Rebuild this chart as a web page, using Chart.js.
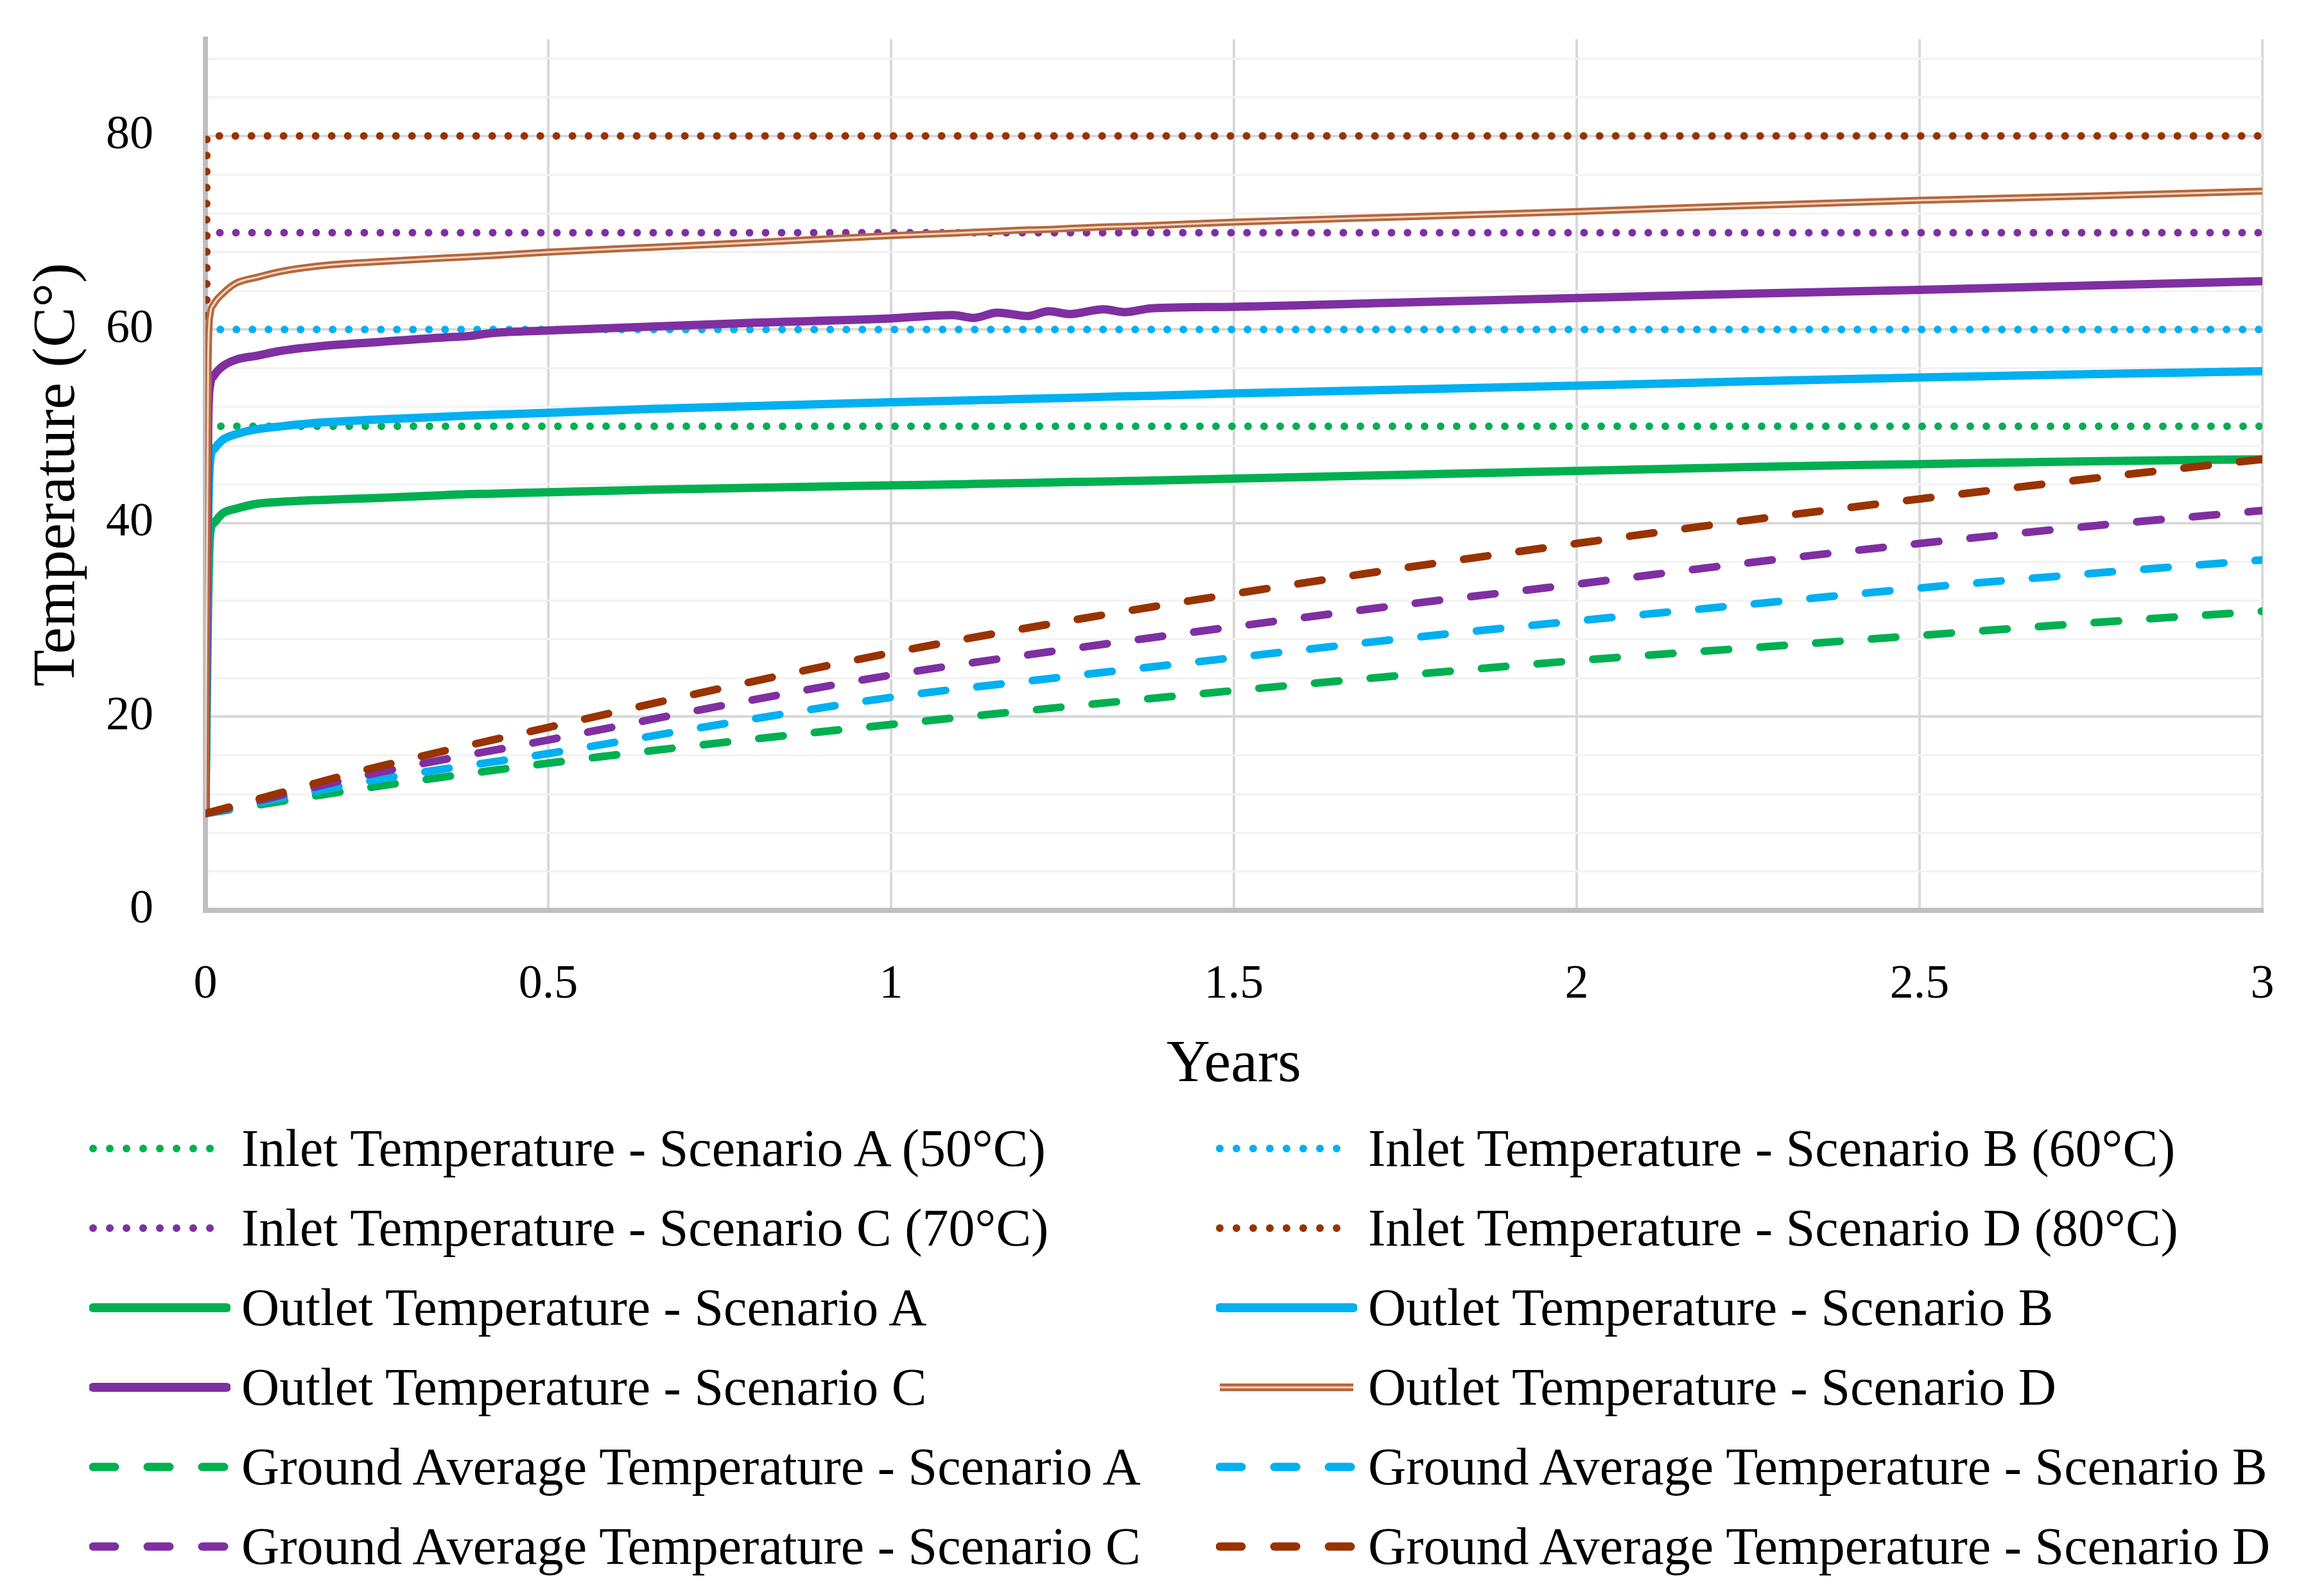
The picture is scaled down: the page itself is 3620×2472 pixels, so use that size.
<!DOCTYPE html>
<html>
<head>
<meta charset="utf-8">
<script src="https://cdn.jsdelivr.net/npm/chart.js@4.4.1/dist/chart.umd.min.js"></script>
<style>
  html, body { margin: 0; padding: 0; background: #fff; }
  #wrap { position: relative; width: 3620px; height: 2472px; }
  #chart { position: absolute; left: 0; top: 0; }
  #legend { position: absolute; left: 0; top: 0; width: 3620px; height: 2472px; font-family: "Liberation Serif", serif; font-size: 82px; color: #000; }
  .item { position: absolute; display: flex; align-items: center; height: 100px; white-space: nowrap; line-height: 1; }
  .item span { margin-left: 17px; }
</style>
</head>
<body>
<div id="wrap">
  <canvas id="chart" width="3620" height="2472"></canvas>
  <div id="legend"></div>
</div>
<script>
// axis ticks
const xTickValues = [0, 0.5, 1, 1.5, 2, 2.5, 3];
const yGridValues = [0, 4, 8, 12, 16, 20, 24, 28, 32, 36, 40, 44, 48, 52, 56, 60, 64, 68, 72, 76, 80, 84, 88];
const yLabelValues = [0, 20, 40, 60, 80];

// inlet (constant set points)
const inletYears = [0, 0.002, 3];
const inletA = [10, 50, 50];
const inletB = [10, 60, 60];
const inletC = [10, 70, 70];
const inletD = [10, 80, 80];

// outlet temperatures
const outletYears = [0, 0.004, 0.007, 0.012, 0.025, 0.045, 0.075, 0.11, 0.17, 0.25, 0.35, 0.38, 0.42, 0.5, 0.65, 0.8, 1.0,
  1.09, 1.12, 1.155, 1.2, 1.23, 1.26, 1.31, 1.34, 1.38, 1.5, 1.75, 2.0, 2.25, 2.5, 2.75, 3.0];
const outletA = [10, 32, 39.0, 40.0, 41.0, 41.5, 42.0, 42.2, 42.4, 42.6, 42.9, 43.0, 43.05, 43.2, 43.45, 43.65, 43.9,
  44.0, 44.05, 44.1, 44.15, 44.2, 44.25, 44.3, 44.35, 44.4, 44.6, 45.0, 45.4, 45.8, 46.1, 46.4, 46.6];
const outletB = [10, 40, 46.5, 47.6, 48.6, 49.2, 49.7, 50.0, 50.4, 50.7, 51.0, 51.1, 51.2, 51.4, 51.8, 52.1, 52.5,
  52.65, 52.7, 52.75, 52.85, 52.9, 52.95, 53.05, 53.1, 53.15, 53.4, 53.8, 54.2, 54.65, 55.05, 55.4, 55.7];
const outletC = [10, 50, 54.3, 55.2, 56.2, 56.9, 57.3, 57.8, 58.3, 58.7, 59.2, 59.3, 59.65, 59.9, 60.3, 60.7, 61.15,
  61.5, 61.2, 61.75, 61.4, 61.9, 61.6, 62.1, 61.8, 62.2, 62.35, 62.8, 63.25, 63.7, 64.1, 64.55, 65.0];
const outletD = [10, 57, 61.6, 62.6, 63.7, 64.8, 65.4, 66.0, 66.6, 67.0, 67.4, 67.5, 67.65, 68.0, 68.5, 69.0, 69.7,
  69.95, 70.05, 70.15, 70.3, 70.35, 70.45, 70.6, 70.65, 70.75, 71.1, 71.65, 72.2, 72.8, 73.35, 73.8, 74.3];

// ground average temperatures
const groundYears = [0, 0.25, 0.5, 0.75, 1, 1.25, 1.5, 1.75, 2, 2.25, 2.5, 2.75, 3];
const groundA = [10, 12.8, 15.2, 17.3, 19.2, 21.0, 22.7, 24.3, 25.8, 27.1, 28.4, 29.7, 30.9];
const groundB = [10, 13.5, 16.2, 19.2, 22.0, 24.1, 26.1, 28.1, 29.9, 31.6, 33.3, 34.8, 36.2];
const groundC = [10, 14.2, 17.6, 21.1, 24.3, 26.9, 29.3, 31.6, 33.7, 35.9, 37.9, 39.7, 41.3];
const groundD = [10, 14.8, 18.9, 22.9, 26.6, 29.8, 32.7, 35.4, 37.9, 40.3, 42.5, 44.6, 46.6];

const GREEN = '#00B050', BLUE = '#00B0F0', PURPLE = '#7F2FA1', BROWN = '#993300';
const COPPER = '#B5673D', COPPER_LIGHT = '#F3D6C4';
const FONT = '"Liberation Serif", serif';

const pts = (xs, ys) => xs.map((x, i) => ({ x: x, y: ys[i] }));

function dotted(label, color, xs, ys) {
  return { label, kind: 'dotted', data: pts(xs, ys), borderColor: color, borderWidth: 12,
    borderDash: [0, 25], borderCapStyle: 'round', tension: 0 };
}
function solid(label, color, xs, ys) {
  return { label, kind: 'solid', data: pts(xs, ys), borderColor: color, borderWidth: 13,
    borderJoinStyle: 'round', cubicInterpolationMode: 'monotone' };
}
function dashed(label, color, xs, ys) {
  return { label, kind: 'dashed', data: pts(xs, ys), borderColor: color, borderWidth: 12,
    borderDash: [38, 49], borderCapStyle: 'round', cubicInterpolationMode: 'monotone' };
}

const outletDSet = solid('Outlet Temperature - Scenario D', COPPER, outletYears, outletD);
outletDSet.borderWidth = 11;
outletDSet.kind = 'double';
const outletDInner = solid('', COPPER_LIGHT, outletYears, outletD);
outletDInner.borderWidth = 3;
outletDInner.noLegend = true;

// drawing order: first in list is bottom
const datasets = [
  dotted('Inlet Temperature - Scenario A (50°C)', GREEN, inletYears, inletA),
  dotted('Inlet Temperature - Scenario B (60°C)', BLUE, inletYears, inletB),
  dotted('Inlet Temperature - Scenario C (70°C)', PURPLE, inletYears, inletC),
  dotted('Inlet Temperature - Scenario D (80°C)', BROWN, inletYears, inletD),
  solid('Outlet Temperature - Scenario A', GREEN, outletYears, outletA),
  solid('Outlet Temperature - Scenario B', BLUE, outletYears, outletB),
  solid('Outlet Temperature - Scenario C', PURPLE, outletYears, outletC),
  outletDSet,
  outletDInner,
  dashed('Ground Average Temperature - Scenario A', GREEN, groundYears, groundA),
  dashed('Ground Average Temperature - Scenario B', BLUE, groundYears, groundB),
  dashed('Ground Average Temperature - Scenario C', PURPLE, groundYears, groundC),
  dashed('Ground Average Temperature - Scenario D', BROWN, groundYears, groundD)
];
datasets.forEach((d, i) => { d.order = -i; d.pointRadius = 0; d.fill = false; });

new Chart(document.getElementById('chart'), {
  type: 'line',
  data: { datasets },
  options: {
    responsive: false,
    devicePixelRatio: 1,
    animation: false,
    layout: { padding: { left: 0, right: 96, top: 61, bottom: 754 } },
    plugins: { legend: { display: false }, tooltip: { enabled: false } },
    scales: {
      x: {
        type: 'linear', min: 0, max: 3,
        afterBuildTicks: s => { s.ticks = xTickValues.map(v => ({ value: v })); },
        afterFit: s => { s.height = 300; },
        ticks: { autoSkip: false, maxRotation: 0, padding: 72, color: '#000',
          font: { family: FONT, size: 74 }, callback: v => String(v) },
        grid: { drawTicks: false, color: '#D9D9D9', lineWidth: 4 },
        border: { color: '#BFBFBF', width: 8 },
        title: { display: true, text: 'Years', color: '#000', font: { family: FONT, size: 94 },
          padding: { top: 0, bottom: 2 } }
      },
      y: {
        min: 0, max: 90,
        afterBuildTicks: s => { s.ticks = yGridValues.map(v => ({ value: v })); },
        afterFit: s => { s.width = 320; s.paddingTop = 0; s.paddingBottom = 0; },
        ticks: { autoSkip: false, padding: 81, color: '#000', font: { family: FONT, size: 74 },
          callback: v => yLabelValues.includes(v) ? String(v) : '' },
        grid: {
          drawTicks: false,
          color: c => (c.tick && yLabelValues.includes(c.tick.value)) ? '#D9D9D9' : '#F2F2F2',
          lineWidth: c => (c.tick && yLabelValues.includes(c.tick.value)) ? 4 : 3
        },
        border: { color: '#BFBFBF', width: 8 },
        title: { display: true, text: 'Temperature (C°)', color: '#000', font: { family: FONT, size: 94 },
          padding: { top: 34, bottom: 0 } }
      }
    }
  }
});

// legend in two columns, built from the dataset styles
function sample(d) {
  const ns = 'http://www.w3.org/2000/svg';
  const svg = document.createElementNS(ns, 'svg');
  svg.setAttribute('width', '220');
  svg.setAttribute('height', '40');
  const line = (w, color, dash, cap) => {
    const l = document.createElementNS(ns, 'line');
    l.setAttribute('x1', '6'); l.setAttribute('x2', '214');
    l.setAttribute('y1', '20'); l.setAttribute('y2', '20');
    l.setAttribute('stroke', color);
    l.setAttribute('stroke-width', w);
    l.setAttribute('stroke-linecap', cap);
    if (dash) l.setAttribute('stroke-dasharray', dash);
    svg.appendChild(l);
  };
  if (d.kind === 'dotted') line(12, d.borderColor, '0 26', 'round');
  else if (d.kind === 'dashed') line(13, d.borderColor, '34 51', 'round');
  else if (d.kind === 'double') { line(12, d.borderColor, null, 'butt'); line(3, COPPER_LIGHT, null, 'butt'); }
  else line(14, d.borderColor, null, 'round');
  return svg;
}

const legend = document.getElementById('legend');
datasets.filter(d => !d.noLegend).forEach((d, i) => {
  const col = i % 2, row = Math.floor(i / 2);
  const item = document.createElement('div');
  item.className = 'item';
  item.style.left = (col ? 1894 : 139) + 'px';
  item.style.top = (1789 + row * 124 - 50) + 'px';
  item.appendChild(sample(d));
  const span = document.createElement('span');
  span.textContent = d.label;
  item.appendChild(span);
  legend.appendChild(item);
});
</script>
</body>
</html>
